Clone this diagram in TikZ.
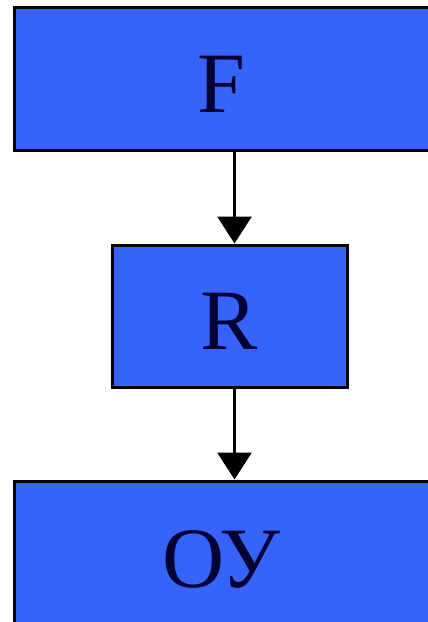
\documentclass[tikz,border=0pt]{standalone}
\usepackage{fontspec}
\setmainfont{Liberation Serif}
\usetikzlibrary{arrows.meta}
\definecolor{boxblue}{RGB}{54,100,250}
\definecolor{inknavy}{RGB}{0,0,50}

\begin{document}
\begin{tikzpicture}[
  x=1pt, y=-1pt,
  >={Triangle[width=34pt, length=27pt]},
  blk/.style={rectangle, draw=black, line width=3pt, fill=boxblue, text=inknavy,
    inner sep=0pt, text height=67pt, text depth=0pt,
    font=\fontsize{86}{90}\selectfont},
  arr/.style={->, line width=3pt}
]
  \useasboundingbox (0,0) rectangle (428,622);
  \clip (0,0) rectangle (428,622);

  \node[blk, minimum width=415pt, minimum height=143pt] (F)  at (221.5, 78.5) {F};
  \node[blk, minimum width=235pt, minimum height=142pt] (R)  at (229.5, 316)  {R};
  \node[blk, minimum width=415pt, minimum height=146pt] (OU) at (221.5, 554)  {ОУ};

  \draw[arr] ([xshift=5pt]R.north |- F.south) -- ([xshift=5pt]R.north);
  \draw[arr] ([xshift=5pt]R.south) -- ([xshift=5pt]R.south |- OU.north);
\end{tikzpicture}
\end{document}
